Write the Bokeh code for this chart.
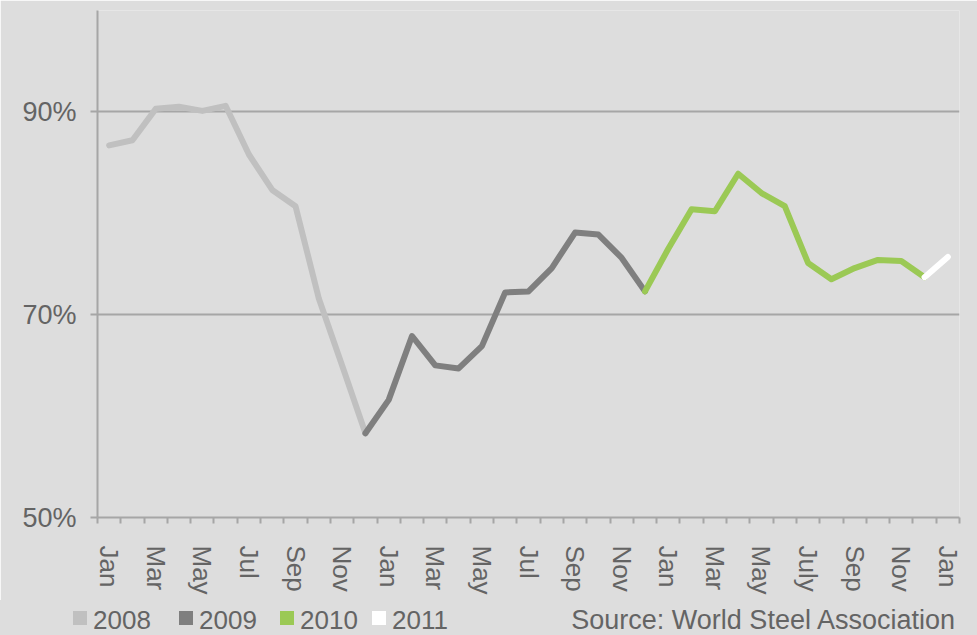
from bokeh.plotting import figure
from bokeh.layouts import column
from bokeh.models import Range1d, FixedTicker, Div
from bokeh.embed import file_html
from bokeh.resources import INLINE

# ---- data -------------------------------------------------------------
categories = [
    "Jan 2008", "Feb 2008", "Mar 2008", "Apr 2008", "May 2008", "Jun 2008",
    "Jul 2008", "Aug 2008", "Sep 2008", "Oct 2008", "Nov 2008", "Dec 2008",
    "Jan 2009", "Feb 2009", "Mar 2009", "Apr 2009", "May 2009", "Jun 2009",
    "Jul 2009", "Aug 2009", "Sep 2009", "Oct 2009", "Nov 2009", "Dec 2009",
    "Jan 2010", "Feb 2010", "Mar 2010", "Apr 2010", "May 2010", "Jun 2010",
    "Jul 2010", "Aug 2010", "Sep 2010", "Oct 2010", "Nov 2010", "Dec 2010",
    "Jan 2011",
]
tick_labels = ["Jan", "Mar", "May", "Jul", "Sep", "Nov",
               "Jan", "Mar", "May", "Jul", "Sep", "Nov",
               "Jan", "Mar", "May", "July", "Sep", "Nov",
               "Jan"]

util_2008 = [86.7, 87.2, 90.3, 90.5, 90.1, 90.6, 85.8, 82.3, 80.7, 71.6, 65.0, 58.3]
util_2009 = [61.6, 67.9, 65.0, 64.7, 66.9, 72.2, 72.3, 74.6, 78.1, 77.9, 75.6, 72.3]
util_2010 = [76.5, 80.4, 80.2, 83.9, 82.0, 80.7, 75.1, 73.5, 74.6, 75.4, 75.3, 73.7]
util_2011 = [75.7]

series_names = ["2008", "2009", "2010", "2011"]
series_values = [util_2008, util_2009, util_2010, util_2011]
series_colors = ["#c0c0c0", "#7f7f7f", "#9bc955", "#ffffff"]

y_ticks = [50, 70, 90]
source_text = "Source: World Steel Association"

# ---- styling ----------------------------------------------------------
BG = "#dddddd"
TXT = "#646464"
AX = "#a6a6a6"
FONT = "Liberation Sans"

n = len(categories)
p = figure(width=977, height=600, output_backend="svg", toolbar_location=None,
           x_range=Range1d(-0.5, n - 0.5), y_range=Range1d(50, 100),
           min_border_left=97, min_border_right=18, min_border_top=10,
           min_border_bottom=83)
p.background_fill_color = BG
p.border_fill_color = BG
p.outline_line_color = None

# y axis
p.yaxis.ticker = FixedTicker(ticks=y_ticks)
p.yaxis.major_label_overrides = {v: f"{v}%" for v in y_ticks}
p.yaxis.axis_line_color = AX
p.yaxis.axis_line_width = 2
p.yaxis.major_tick_line_color = AX
p.yaxis.major_tick_line_width = 2
p.yaxis.major_tick_out = 7
p.yaxis.major_tick_in = 0
p.yaxis.minor_tick_line_color = None
p.yaxis.major_label_standoff = 14
p.yaxis.major_label_text_font = FONT
p.yaxis.major_label_text_font_size = "27px"
p.yaxis.major_label_text_color = TXT

# x axis: labels on every other month, tick marks on month boundaries
label_pos = [categories.index(c) for c in categories[::2]]
boundaries = [i - 0.5 for i in range(n + 1)]
p.xaxis.ticker = FixedTicker(ticks=label_pos, minor_ticks=boundaries)
p.xaxis.major_label_overrides = {pos: lab for pos, lab in zip(label_pos, tick_labels)}
p.xaxis.major_label_orientation = "vertical"
p.xaxis.axis_line_color = AX
p.xaxis.axis_line_width = 2
p.xaxis.major_tick_line_color = None
p.xaxis.major_tick_out = 0
p.xaxis.major_tick_in = 0
p.xaxis.minor_tick_line_color = AX
p.xaxis.minor_tick_line_width = 2
p.xaxis.minor_tick_out = 6
p.xaxis.minor_tick_in = 0
p.xaxis.major_label_standoff = 22
p.xaxis.major_label_text_font = FONT
p.xaxis.major_label_text_font_size = "26px"
p.xaxis.major_label_text_color = TXT

p.xgrid.grid_line_color = None
p.ygrid.grid_line_color = AX
p.ygrid.grid_line_width = 2

# lines: each year starts from the previous year's last point
all_vals = [v for s in series_values for v in s]
start = 0
for name, vals, col in zip(series_names, series_values, series_colors):
    xs = list(range(start, start + len(vals)))
    ys = list(vals)
    if start > 0:
        xs = [start - 1] + xs
        ys = [all_vals[start - 1]] + ys
    p.line(xs, ys, line_color=col, line_width=6, line_cap="round", line_join="round")
    start += len(vals)

# ---- footer: legend swatches + source note -----------------------------
swatch_left = [73, 179, 280, 372]   # layout positions of the legend entries (px)
parts = []
for name, col, left in zip(series_names, series_colors, swatch_left):
    parts.append(
        f'<span style="position:absolute;left:{left}px;top:11px;width:14px;height:14px;'
        f'background:{col};"></span>'
        f'<span style="position:absolute;left:{left + 20}px;top:6px;line-height:28px;">{name}</span>'
    )
parts.append(
    f'<span style="position:absolute;right:22px;top:6px;line-height:28px;'
    f'font-size:27px;">{source_text}</span>'
)
footer_html = (
    f'<div style="position:relative;width:977px;height:35px;overflow:hidden;'
    f'font-family:\'{FONT}\';font-size:26px;color:{TXT};white-space:nowrap;">'
    + "".join(parts) + "</div>"
)
footer = Div(text=footer_html, width=977, height=35, margin=0,
             styles={"background-color": BG})

layout = column(p, footer, spacing=0)
html = file_html(layout, INLINE)
html = html.replace("<body>", '<body style="margin:0;background:#dddddd">', 1)
open("out.html", "w").write(html)
